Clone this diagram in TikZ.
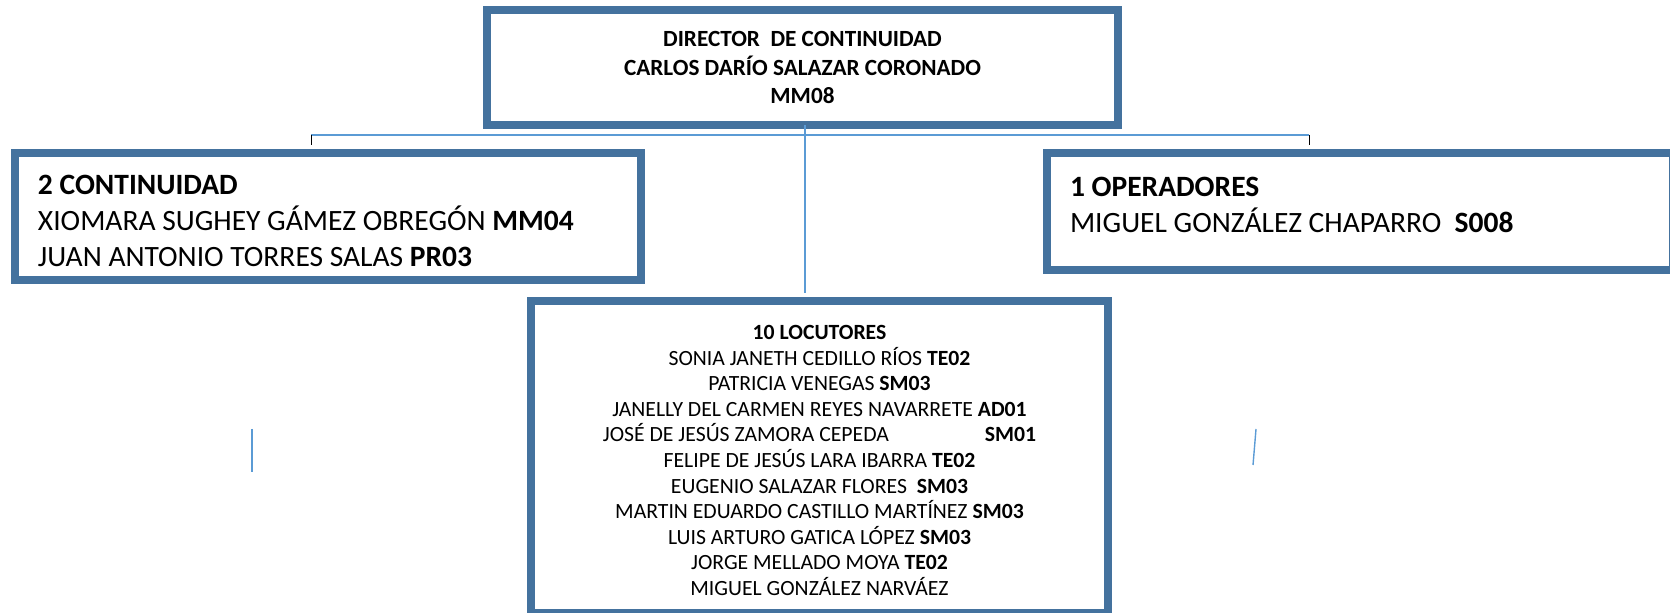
\documentclass[tikz,border=0pt]{standalone}
\usepackage{fontspec}
\setmainfont{Carlito}
\usetikzlibrary{calc}

\definecolor{azulmarco}{RGB}{68,114,158}
\definecolor{azulclaro}{RGB}{91,155,213}

\begin{document}
\begin{tikzpicture}[x=0.5pt, y=-0.5pt,
  cargo/.style={draw=azulmarco, line width=4pt, rectangle, inner sep=0pt, fill=white},
  enlace/.style={azulclaro, line width=0.7pt},
  marca/.style={black, line width=0.5pt}]

\useasboundingbox (0,0) rectangle (1670,613);
\clip (0,0) rectangle (1670,613);

% director
\node [cargo, minimum width=315.5pt, minimum height=57.5pt, align=center,
  font=\fontsize{11.6}{14.15}\selectfont\bfseries] (director) at (802.5,67.5)
  {DIRECTOR\ \ DE CONTINUIDAD\\ CARLOS DARÍO SALAZAR CORONADO\\ MM08};

% continuidad
\node [cargo, inner xsep=11.5pt, text height=20.75pt, text depth=42.75pt,
  font=\fontsize{14.75}{18}\selectfont] (continuidad) at (328,216.5)
  {\parbox[t]{290pt}{\textbf{2 CONTINUIDAD}\\ XIOMARA SUGHEY GÁMEZ OBREGÓN \textbf{MM04}\\ JUAN ANTONIO TORRES SALAS \textbf{PR03}}};

% operadores
\node [cargo, inner xsep=11.5pt, text height=21.75pt, text depth=36.75pt,
  font=\fontsize{14.75}{18}\selectfont] (operadores) at (1360,211.5)
  {\parbox[t]{290pt}{\textbf{1 OPERADORES}\\ MIGUEL GONZÁLEZ CHAPARRO\ \ \textbf{S008}}};

% locutores
\node [cargo, minimum width=288.5pt, minimum height=156pt, align=center,
  font=\fontsize{10.85}{12.8}\selectfont] (locutores) at (819.5,457)
  {\rule{0pt}{10.5pt}\textbf{10 LOCUTORES}\\
   SONIA JANETH CEDILLO RÍOS \textbf{TE02}\\
   PATRICIA VENEGAS \textbf{SM03}\\
   JANELLY DEL CARMEN REYES NAVARRETE \textbf{AD01}\\
   JOSÉ DE JESÚS ZAMORA CEPEDA\hspace*{48pt}\textbf{SM01}\\
   FELIPE DE JESÚS LARA IBARRA \textbf{TE02}\\
   EUGENIO SALAZAR FLORES\ \ \textbf{SM03}\\
   MARTIN EDUARDO CASTILLO MARTÍNEZ \textbf{SM03}\\
   LUIS ARTURO GATICA LÓPEZ \textbf{SM03}\\
   JORGE MELLADO MOYA \textbf{TE02}\\
   MIGUEL GONZÁLEZ NARVÁEZ};

% lineas
\coordinate (ramaizq) at (311,135);
\coordinate (ramader) at (1309,135);
\draw [enlace] (ramaizq) -- (ramader);
\draw [marca] (ramaizq) -- ([yshift=2pt]ramaizq |- continuidad.north);
\draw [marca] (ramader) -- ([yshift=2pt]ramader |- operadores.north);
\draw [enlace] ([xshift=1.25pt,yshift=2pt]director.south) -- ([xshift=1.25pt,yshift=2pt]director.south |- locutores.north);

\draw [enlace] (252,429) -- (252,472);
\draw [enlace] (1256,429) -- (1253,465);

\end{tikzpicture}
\end{document}
